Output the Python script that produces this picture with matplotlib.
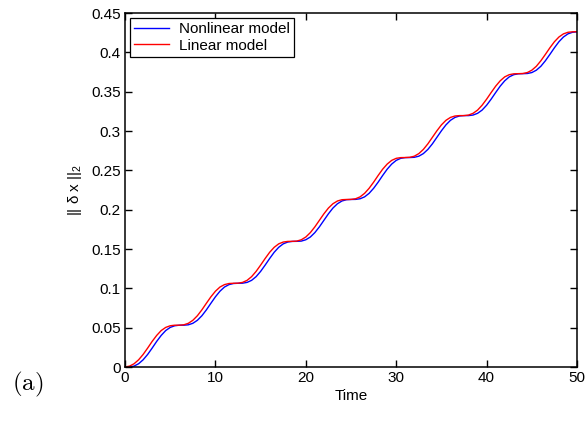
import matplotlib
matplotlib.use("Agg")
import matplotlib.pyplot as plt
import numpy as np

plt.rcParams['font.family'] = ['Liberation Sans', 'DejaVu Sans']
plt.rcParams['mathtext.fontset'] = 'custom'
plt.rcParams['mathtext.rm'] = 'Liberation Sans'

# time grid (step 0.5)
time = np.arange(0, 50.5, 0.5)

# values
nonlinear = [0.0000, 0.0002, 0.0013, 0.0043, 0.0093, 0.0161, 0.0242, 0.0327, 0.0403, 0.0465,
             0.0505, 0.0526, 0.0533, 0.0533, 0.0538, 0.0557, 0.0595, 0.0653, 0.0728, 0.0812,
             0.0894, 0.0965, 0.1018, 0.1049, 0.1063, 0.1066, 0.1067, 0.1077, 0.1103, 0.1150,
             0.1217, 0.1297, 0.1381, 0.1460, 0.1523, 0.1567, 0.1590, 0.1598, 0.1599, 0.1602,
             0.1619, 0.1654, 0.1710, 0.1783, 0.1866, 0.1949, 0.2022, 0.2077, 0.2112, 0.2128,
             0.2131, 0.2132, 0.2140, 0.2164, 0.2209, 0.2273, 0.2351, 0.2436, 0.2516, 0.2581,
             0.2628, 0.2654, 0.2663, 0.2664, 0.2667, 0.2681, 0.2714, 0.2767, 0.2838, 0.2921,
             0.3004, 0.3079, 0.3137, 0.3174, 0.3192, 0.3197, 0.3197, 0.3204, 0.3226, 0.3267,
             0.3329, 0.3406, 0.3490, 0.3571, 0.3639, 0.3689, 0.3717, 0.3728, 0.3730, 0.3732,
             0.3744, 0.3774, 0.3824, 0.3894, 0.3975, 0.4059, 0.4136, 0.4196, 0.4236, 0.4256,
             0.4262]

linear = [0.0002, 0.0013, 0.0043, 0.0093, 0.0161, 0.0242, 0.0327, 0.0403, 0.0465, 0.0505,
          0.0526, 0.0533, 0.0533, 0.0538, 0.0557, 0.0595, 0.0653, 0.0728, 0.0812, 0.0894,
          0.0965, 0.1018, 0.1049, 0.1063, 0.1066, 0.1067, 0.1077, 0.1103, 0.1150, 0.1217,
          0.1297, 0.1381, 0.1460, 0.1523, 0.1567, 0.1590, 0.1598, 0.1599, 0.1602, 0.1619,
          0.1654, 0.1710, 0.1783, 0.1866, 0.1949, 0.2022, 0.2077, 0.2112, 0.2128, 0.2131,
          0.2132, 0.2140, 0.2164, 0.2209, 0.2273, 0.2351, 0.2436, 0.2516, 0.2581, 0.2628,
          0.2654, 0.2663, 0.2664, 0.2667, 0.2681, 0.2714, 0.2767, 0.2838, 0.2921, 0.3004,
          0.3079, 0.3137, 0.3174, 0.3192, 0.3197, 0.3197, 0.3204, 0.3226, 0.3267, 0.3329,
          0.3406, 0.3490, 0.3571, 0.3639, 0.3689, 0.3717, 0.3728, 0.3730, 0.3732, 0.3744,
          0.3774, 0.3824, 0.3894, 0.3975, 0.4059, 0.4136, 0.4196, 0.4236, 0.4256, 0.4262,
          0.4263]

xticks = [0, 10, 20, 30, 40, 50]
yticks = [0, 0.05, 0.1, 0.15, 0.2, 0.25, 0.3, 0.35, 0.4, 0.45]
yticklabels = ['0', '0.05', '0.1', '0.15', '0.2', '0.25', '0.3', '0.35', '0.4', '0.45']

fig = plt.figure(figsize=(5.87, 4.22), dpi=100)
ax = fig.add_axes([0.213, 0.130, 0.770, 0.839])

ax.plot(time, nonlinear, color=(0, 0, 1), lw=1.0, label='Nonlinear model')
ax.plot(time, linear, color=(1, 0, 0), lw=1.0, label='Linear model')

ax.set_xlim(0, 50)
ax.set_ylim(0, 0.45)
ax.set_xticks(xticks)
ax.set_yticks(yticks)
ax.set_yticklabels(yticklabels)
ax.tick_params(direction='in', top=True, right=True, length=5, width=1,
               labelsize=11, pad=3)
for s in ax.spines.values():
    s.set_linewidth(1.1)

ax.set_xlabel('Time', fontsize=11, labelpad=3)
ax.set_ylabel(r'|| δ x ||$_2$', fontsize=11, labelpad=5)

leg = ax.legend(loc='upper left', fontsize=11, handlelength=2.3,
                borderaxespad=0.3, borderpad=0.3, labelspacing=0.15,
                handletextpad=0.6, fancybox=False, framealpha=1)
leg.get_frame().set_edgecolor('black')
leg.get_frame().set_linewidth(0.9)

fig.text(0.02, 0.088, r'$\mathrm{(a)}$', math_fontfamily='cm', fontsize=18, va='center')

fig.savefig('out.png', dpi=100)
